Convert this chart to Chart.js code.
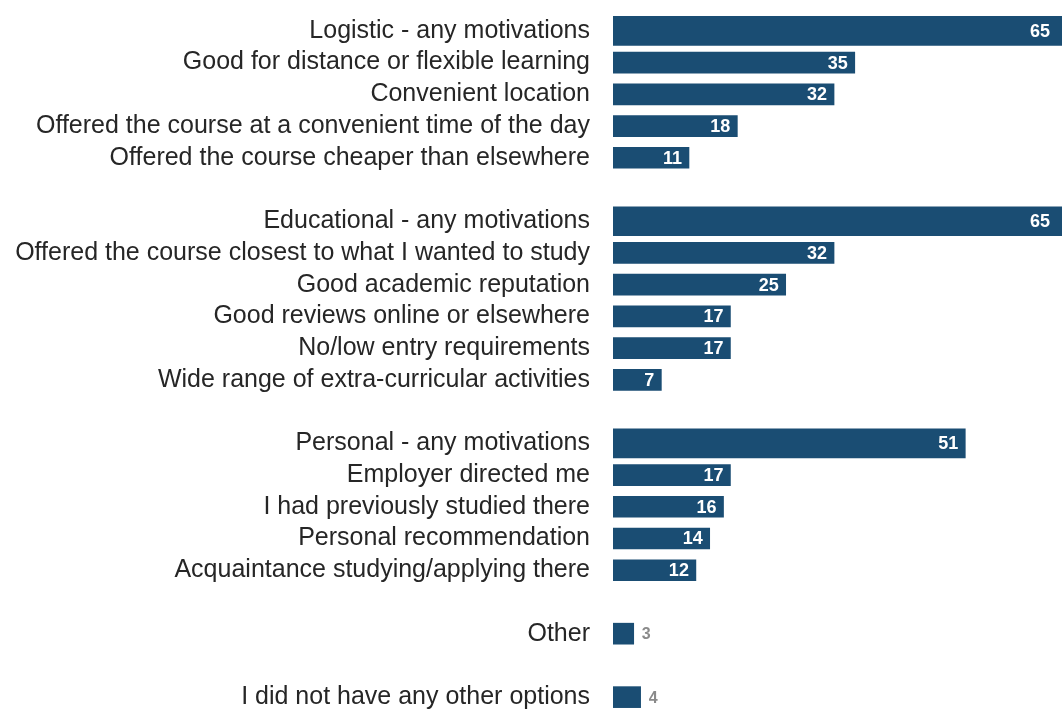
<!DOCTYPE html>
<html>
<head>
<meta charset="utf-8">
<script src="https://cdn.jsdelivr.net/npm/chart.js@4"></script>
<style>
  html, body { margin: 0; padding: 0; background: #fff; overflow: hidden; }
  #wrap { position: relative; width: 1062px; height: 713px; }
</style>
</head>
<body>
<div id="wrap"><canvas id="chart"></canvas></div>
<script>
// motivations for choosing a provider, % of respondents
// empty labels are spacer rows between the groups
const labels = [
  'Logistic - any motivations',
  'Good for distance or flexible learning',
  'Convenient location',
  'Offered the course at a convenient time of the day',
  'Offered the course cheaper than elsewhere',
  '',
  'Educational - any motivations',
  'Offered the course closest to what I wanted to study',
  'Good academic reputation',
  'Good reviews online or elsewhere',
  'No/low entry requirements',
  'Wide range of extra-curricular activities',
  '',
  'Personal - any motivations',
  'Employer directed me',
  'I had previously studied there',
  'Personal recommendation',
  'Acquaintance studying/applying there',
  '',
  'Other',
  '',
  'I did not have any other options'
]
const values = [65, 35, 32, 18, 11, null, 65, 32, 25, 17, 17, 7, null, 51, 17, 16, 14, 12, null, 3, null, 4]
// group totals get a thicker bar
const summaryRows = [0, 6, 13]

const barColor = '#1a4d73'
const fontFamily = 'Arial, "Liberation Sans", sans-serif'

const summaryData = values.map((v, i) => summaryRows.includes(i) ? v : null)
const detailData = values.map((v, i) => summaryRows.includes(i) ? null : v)

const valueLabels = {
  id: 'valueLabels',
  afterDatasetsDraw(chart) {
    const ctx = chart.ctx
    ctx.save()
    ctx.textBaseline = 'middle'
    chart.data.datasets.forEach((ds, di) => {
      chart.getDatasetMeta(di).data.forEach((bar, i) => {
        const v = ds.data[i]
        if (v == null) return
        const x = Math.min(bar.x, chart.chartArea.right)
        if (v < 5) {
          ctx.font = 'bold 16px ' + fontFamily
          ctx.fillStyle = '#8a8a8a'
          ctx.textAlign = 'left'
          ctx.fillText(v, x + 8, bar.y + 1)
        } else {
          ctx.font = 'bold 18px ' + fontFamily
          ctx.fillStyle = '#ffffff'
          ctx.textAlign = 'right'
          ctx.fillText(v, x - (v >= 60 ? 12 : 7), bar.y + 1)
        }
      })
    })
    ctx.restore()
  }
}

new Chart(document.getElementById('chart'), {
  type: 'bar',
  data: {
    labels: labels,
    datasets: [
      { data: summaryData, backgroundColor: barColor, barThickness: 29 },
      { data: detailData, backgroundColor: barColor, barThickness: 21 }
    ]
  },
  options: {
    indexAxis: 'y',
    responsive: true,
    maintainAspectRatio: false,
    animation: false,
    layout: { padding: { top: 15, right: 0, bottom: 0, left: 0 } },
    plugins: {
      legend: { display: false },
      tooltip: { enabled: false }
    },
    scales: {
      x: {
        stacked: true,
        display: false,
        min: 0,
        max: 65
      },
      y: {
        stacked: true,
        grid: { display: false, drawTicks: false },
        border: { display: false },
        ticks: {
          autoSkip: false,
          padding: 23,
          color: '#262626',
          font: { family: fontFamily, size: 25 }
        },
        afterFit(scale) {
          scale.width = 613
          // rows fill the full height, no room kept for label overhang
          scale.paddingTop = 0
          scale.paddingBottom = 0
        }
      }
    }
  },
  plugins: [valueLabels]
})
</script>
</body>
</html>
